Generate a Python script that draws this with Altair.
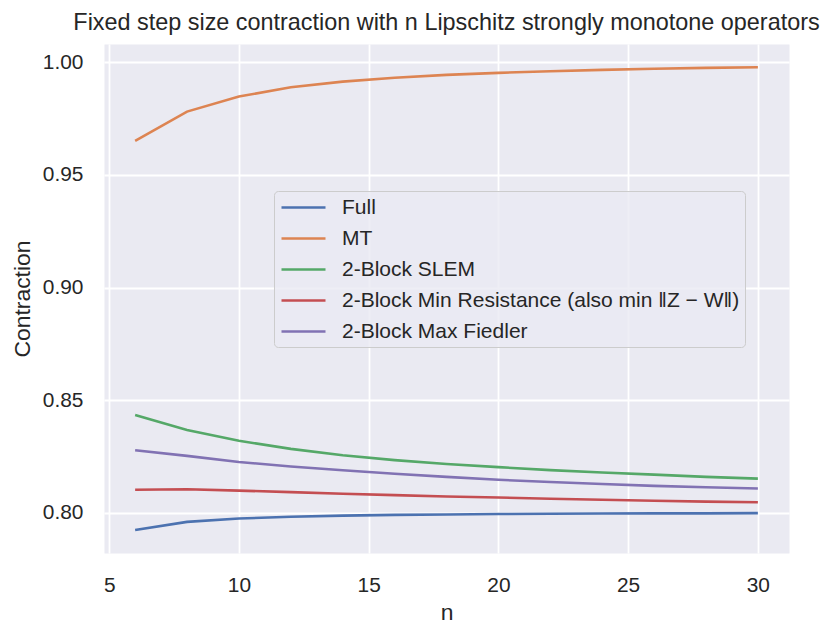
import altair as alt
import pandas as pd

n_values = [6, 8, 10, 12, 14, 16, 18, 20, 22, 24, 26, 28, 30]

series_names = [
    "Full",
    "MT",
    "2-Block SLEM",
    "2-Block Min Resistance (also min \u2016Z \u2212 W\u2016)",
    "2-Block Max Fiedler",
]

full = [0.7924, 0.7960, 0.7975, 0.7983, 0.7988, 0.7991, 0.7993, 0.7995, 0.7996, 0.7997, 0.7998, 0.7998, 0.7999]
mt = [0.9651, 0.9781, 0.9848, 0.9889, 0.9914, 0.9931, 0.9944, 0.9953, 0.9960, 0.9966, 0.9971, 0.9975, 0.9978]
slem = [0.8435, 0.8368, 0.8320, 0.8284, 0.8256, 0.8234, 0.8217, 0.8203, 0.8190, 0.8179, 0.8170, 0.8160, 0.8152]
min_res = [0.8103, 0.8105, 0.8099, 0.8092, 0.8085, 0.8079, 0.8073, 0.8068, 0.8063, 0.8058, 0.8054, 0.8050, 0.8047]
max_fiedler = [0.8278, 0.8253, 0.8226, 0.8206, 0.8189, 0.8174, 0.8160, 0.8147, 0.8137, 0.8128, 0.8120, 0.8114, 0.8108]

colors = ["#4C72B0", "#DD8452", "#55A868", "#C44E52", "#8172B3"]

x_ticks = [5, 10, 15, 20, 25, 30]
y_ticks = [0.80, 0.85, 0.90, 0.95, 1.00]

rows = []
for name, vals in zip(series_names, [full, mt, slem, min_res, max_fiedler]):
    for n, v in zip(n_values, vals):
        rows.append({"n": n, "Contraction": v, "series": name})
df = pd.DataFrame(rows)

FONT = "Liberation Sans"
TXT = "#262626"

chart = (
    alt.Chart(df)
    .mark_line(strokeWidth=2.6)
    .encode(
        x=alt.X(
            "n:Q",
            title="n",
            scale=alt.Scale(domain=[4.8, 31.2], nice=False, zero=False),
            axis=alt.Axis(values=x_ticks, format="d", labelPadding=21, titlePadding=7),
        ),
        y=alt.Y(
            "Contraction:Q",
            title="Contraction",
            scale=alt.Scale(domain=[0.7822, 1.0081], nice=False, zero=False),
            axis=alt.Axis(values=y_ticks, format=".2f", labelPadding=21, titlePadding=8),
        ),
        color=alt.Color(
            "series:N",
            scale=alt.Scale(domain=series_names, range=colors),
            legend=alt.Legend(
                title=None,
                orient="none",
                legendX=170,
                legendY=147,
                symbolType="M-0.9,0H3.5",
                symbolSize=400,
                symbolStrokeWidth=2.6,
                labelFontSize=21,
                labelFont=FONT,
                labelColor=TXT,
                labelOffset=40,
                rowPadding=9,
                padding=5,
                fillColor="rgba(234,234,242,0.8)",
                strokeColor="#cccccc",
                cornerRadius=4,
                labelLimit=0,
            ),
        ),
        order=alt.Order("n:Q"),
    )
    .properties(
        width=685,
        height=509,
        autosize=alt.AutoSizeParams(type="none"),
        padding={"left": 96, "top": 36, "right": 33, "bottom": 75},
        title=alt.TitleParams(
            text="Fixed step size contraction with n Lipschitz strongly monotone operators",
            fontSize=23.4,
            font=FONT,
            fontWeight="normal",
            color=TXT,
            anchor="middle",
            baseline="bottom",
            frame="group",
            offset=10,
            dy=24,
        ),
    )
    .configure_view(fill="#EAEAF2", stroke="transparent")
    .configure_axis(
        domain=False,
        ticks=False,
        grid=True,
        gridColor="white",
        gridWidth=1.8,
        labelFont=FONT,
        labelFontSize=20.9,
        labelColor=TXT,
        titleFont=FONT,
        titleFontSize=22.9,
        titleFontWeight="normal",
        titleColor=TXT,
    )
)

chart.save("out.html", embed_options={"renderer": "svg", "actions": False})
